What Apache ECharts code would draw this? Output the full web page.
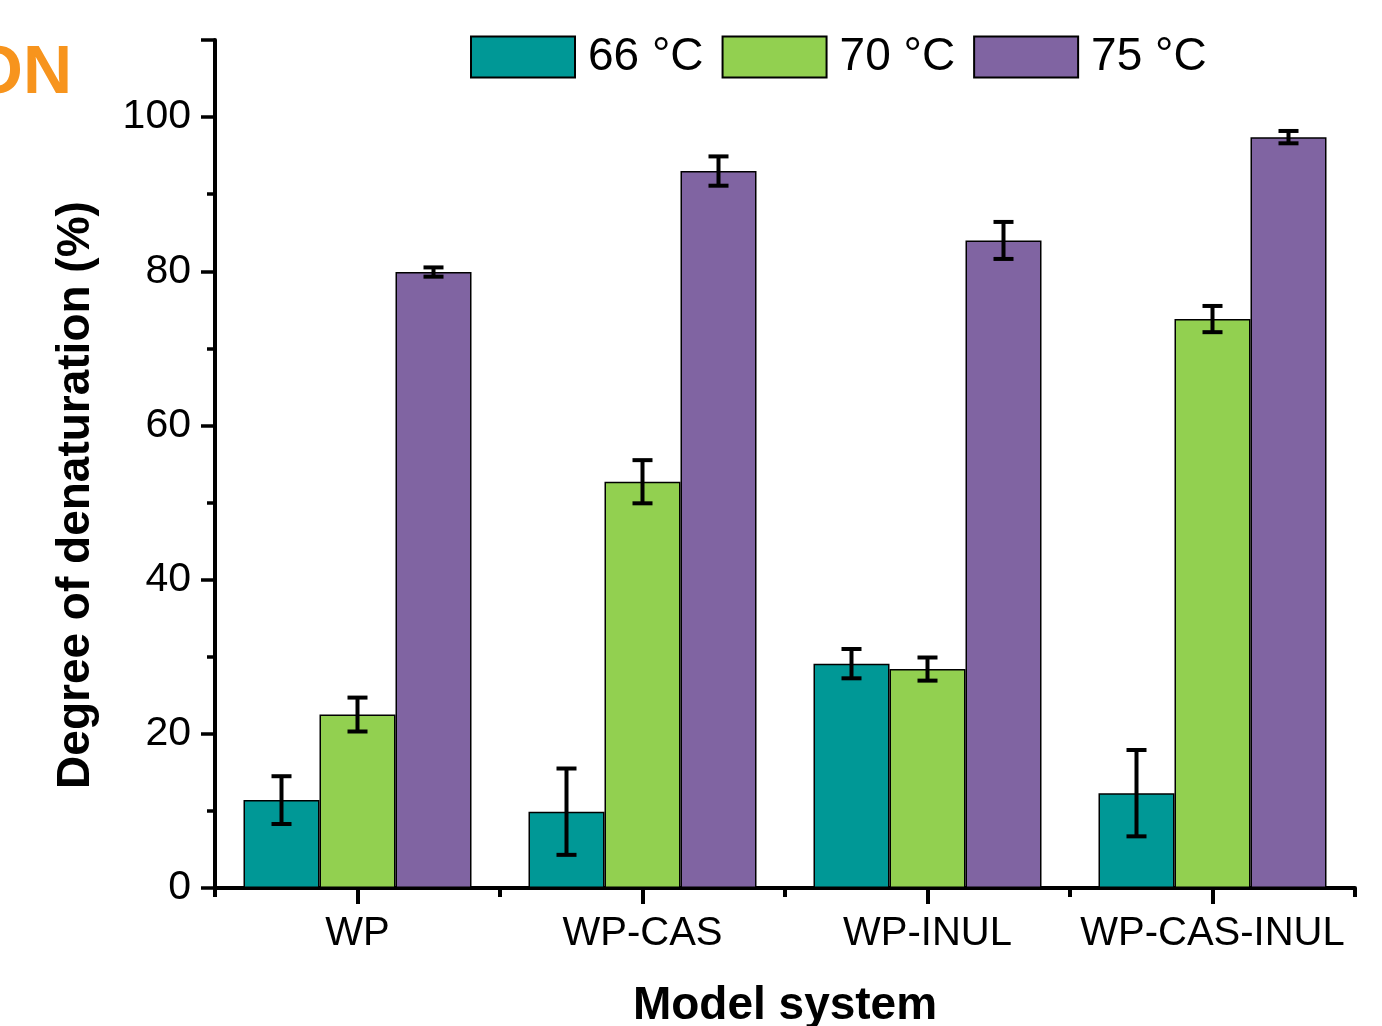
<!DOCTYPE html>
<html>
<head>
<meta charset="utf-8">
<script src="https://cdn.jsdelivr.net/npm/echarts@6/dist/echarts.min.js"></script>
<style>
html,body{margin:0;padding:0;background:#fff;}
#main{width:1382px;height:1026px;}
</style>
</head>
<body>
<div id="main"></div>
<script>
var systems = ['WP', 'WP-CAS', 'WP-INUL', 'WP-CAS-INUL'];
var temps = ['66 °C', '70 °C', '75 °C'];
var colors = ['#009896', '#92D050', '#8064A2'];

var val66 = [11.4, 9.9, 29.1, 12.3];
var val70 = [22.5, 52.7, 28.4, 73.8];
var val75 = [79.9, 93.0, 84.0, 97.4];
var err66 = [3.1, 5.6, 1.9, 5.6];
var err70 = [2.2, 2.8, 1.5, 1.7];
var err75 = [0.6, 1.9, 2.4, 0.8];
var yTicks = [0, 20, 40, 60, 80, 100];

var vals = [val66, val70, val75];
var errs = [err66, err70, err75];
var font = 'Liberation Sans, Arial, sans-serif';

var chart = echarts.init(document.getElementById('main'));

var series = [];
temps.forEach(function(t, i) {
	series.push({
		name: t,
		type: 'bar',
		data: vals[i],
		barGap: 0,
		barCategoryGap: '20%',
		itemStyle: {color: colors[i], borderColor: '#000', borderWidth: 1.5},
		z: 2
	});
});

// error bars, one custom series per temperature
temps.forEach(function(t, i) {
	var d = vals[i].map(function(v, k) { return [k, v - errs[i][k], v + errs[i][k]]; });
	series.push({
		type: 'custom',
		name: 'err' + i,
		data: d,
		z: 5,
		renderItem: function(params, api) {
			var band = api.size([1, 0])[0];
			var bw = band * 0.8 / 3;
			var lo = api.coord([api.value(0), api.value(1)]);
			var hi = api.coord([api.value(0), api.value(2)]);
			var x = lo[0] + (i - 1) * bw;
			var cap = 10;
			var st = {stroke: '#000', lineWidth: 4};
			return {
				type: 'group',
				children: [
					{type: 'line', shape: {x1: x, y1: lo[1], x2: x, y2: hi[1]}, style: st},
					{type: 'line', shape: {x1: x - cap, y1: lo[1], x2: x + cap, y2: lo[1]}, style: st},
					{type: 'line', shape: {x1: x - cap, y1: hi[1], x2: x + cap, y2: hi[1]}, style: st}
				]
			};
		}
	});
});

option = {
	animation: false,
	textStyle: {fontFamily: font},
	grid: {left: 215, right: 27, top: 40, bottom: 138, containLabel: false, outerBoundsMode: 'none'},
	legend: {
		data: temps,
		left: 465,
		top: 29,
		icon: 'rect',
		itemWidth: 104,
		itemHeight: 41,
		itemGap: 18,
		textStyle: {fontSize: 46, color: '#000', fontFamily: font, padding: [0, 0, 0, 8]}
	},
	xAxis: [{
		type: 'category',
		data: systems,
		axisLine: {lineStyle: {color: '#000', width: 4}},
		axisTick: {show: true, alignWithLabel: true, length: 16, lineStyle: {width: 4, color: '#000'}},
		axisLabel: {interval: 0, fontSize: 40, color: '#000', margin: 26},
		name: 'Model system',
		nameLocation: 'middle',
		nameGap: 95,
		nameTextStyle: {fontSize: 46, fontWeight: 'bold', color: '#000'}
	}, {
		type: 'category',
		data: systems,
		position: 'bottom',
		axisLine: {show: false},
		axisTick: {show: true, length: 9, lineStyle: {width: 4, color: '#000'}},
		axisLabel: {show: false}
	}],
	yAxis: [{
		type: 'value',
		min: 0,
		max: 110,
		interval: 20,
		axisLine: {show: true, lineStyle: {color: '#000', width: 4}},
		axisTick: {show: true, length: 14, lineStyle: {width: 3.5, color: '#000'}},
		splitLine: {show: false},
		axisLabel: {
			fontSize: 41, color: '#000', margin: 24,
			formatter: function(v) { return yTicks.indexOf(v) >= 0 ? v : ''; }
		}
	}, {
		type: 'value',
		min: 0,
		max: 110,
		interval: 10,
		position: 'left',
		axisLine: {show: false},
		axisTick: {show: true, length: 8, lineStyle: {width: 3.5, color: '#000'}},
		splitLine: {show: false},
		axisLabel: {show: false}
	}],
	graphic: [{
		type: 'text',
		x: 76,
		y: 495,
		rotation: Math.PI / 2,
		style: {
			text: 'Degree of denaturation (%)',
			font: 'bold 46px ' + font,
			fill: '#000',
			align: 'center',
			verticalAlign: 'middle'
		}
	}, {
		type: 'text',
		left: -30,
		top: 40,
		style: {text: 'ON', font: 'bold 68px ' + font, fill: '#F7941D'}
	}],
	series: series
};
chart.setOption(option);
</script>
</body>
</html>
